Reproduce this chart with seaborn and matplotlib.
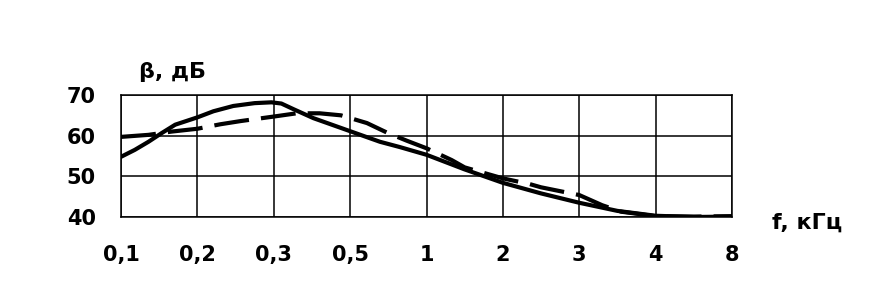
import matplotlib
matplotlib.use("Agg")
import matplotlib.pyplot as plt
import seaborn as sns
import pandas as pd

# Category labels on the frequency axis (evenly spaced positions)
freq_labels = ["0,1", "0,2", "0,3", "0,5", "1", "2", "3", "4", "8"]
y_ticks = [40, 50, 60, 70]

# Solid curve: position along the category axis and value in dB
solid_pos = [0, 0.18, 0.36, 0.53, 0.71, 1, 1.21, 1.47, 1.75, 1.97, 2.1, 2.26, 2.52, 3,
             3.39, 3.65, 4, 4.5, 5, 5.5, 6, 6.5, 7, 7.5, 8]
solid_val = [54.8, 56.5, 58.5, 60.6, 62.7, 64.5, 66.0, 67.3, 68.0, 68.2, 67.9, 66.5, 64.3, 61.1,
             58.5, 57.2, 55.3, 51.7, 48.4, 45.8, 43.5, 41.5, 40.3, 40.0, 40.1]

# Dashed curve
dashed_pos = [0, 0.36, 0.66, 1, 1.3, 1.57, 2, 2.3, 2.6, 2.88, 3.22, 3.5, 3.75, 4, 4.33, 4.5,
              5, 5.35, 5.5, 6, 6.3, 6.55, 7, 7.5, 8]
dashed_val = [59.7, 60.2, 61.0, 61.7, 62.8, 63.6, 64.7, 65.5, 65.5, 65.0, 63.1, 60.6, 58.7, 56.9, 54.0, 52.2,
              49.5, 48.1, 47.3, 45.4, 42.9, 41.3, 40.2, 40.1, 40.2]

df = pd.concat([
    pd.DataFrame({"pos": solid_pos, "val": solid_val, "curve": "solid"}),
    pd.DataFrame({"pos": dashed_pos, "val": dashed_val, "curve": "dashed"}),
], ignore_index=True)

sns.set_theme(style="white")
plt.rcParams["font.family"] = ["DejaVu Sans"]

fig = plt.figure(figsize=(8.77, 3.03), dpi=100)
ax = fig.add_axes([121 / 877, 1 - 217 / 303, (732 - 121) / 877, (217 - 95) / 303])

sns.lineplot(data=df, x="pos", y="val", style="curve",
             dashes={"solid": "", "dashed": (8.4, 2.9)},
             color="black", linewidth=3, legend=False, ax=ax, zorder=3)
for ln in ax.get_lines():
    ln.set_solid_joinstyle("round")
    ln.set_solid_capstyle("round")

ax.set_xlim(0, len(freq_labels) - 1)
ax.set_ylim(y_ticks[0], y_ticks[-1])
ax.set_xticks(range(len(freq_labels)))
ax.set_xticklabels(freq_labels)
ax.set_yticks(y_ticks)
ax.set_yticklabels([str(v) for v in y_ticks])
ax.grid(True, color="black", linewidth=1.1)
for s in ax.spines.values():
    s.set_color("black")
    s.set_linewidth(1.1)
ax.tick_params(axis="both", length=0, labelsize=15, labelcolor="black")
ax.tick_params(axis="x", pad=20)
ax.tick_params(axis="y", pad=18)
for lab in ax.get_xticklabels() + ax.get_yticklabels():
    lab.set_fontweight("bold")
ax.set_xlabel("")
ax.set_ylabel("")

fig.text(139 / 877, 1 - 72 / 303, "β, дБ", fontsize=16, fontweight="bold",
         ha="left", va="center", color="black")
fig.text(772 / 877, 1 - 223 / 303, "f, кГц", fontsize=16, fontweight="bold",
         ha="left", va="center", color="black")

fig.savefig("out.png", dpi=100)
